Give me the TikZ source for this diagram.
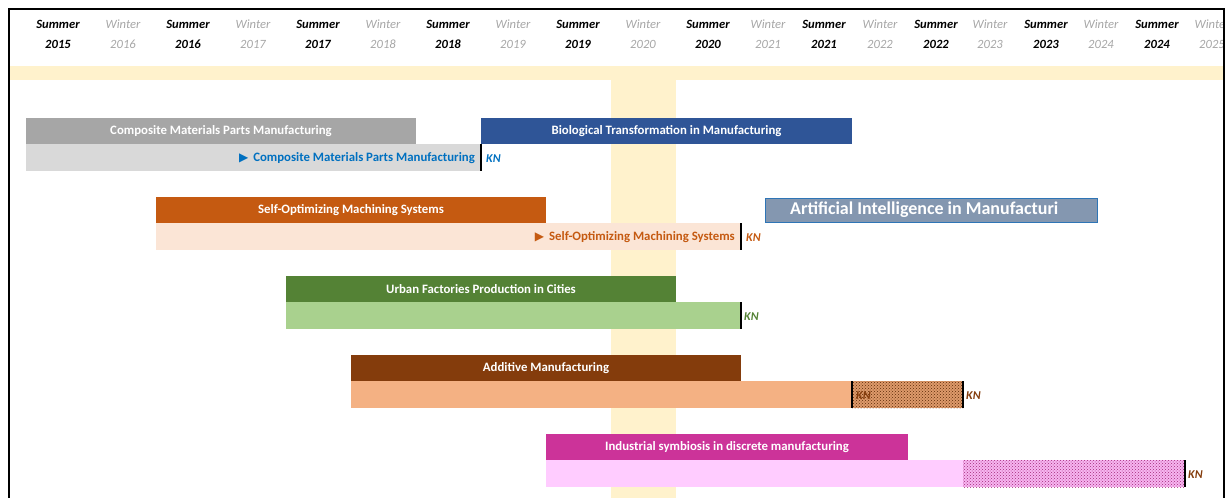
\documentclass[tikz,border=0pt]{standalone}
\usepackage{fontspec}
\setmainfont{Carlito}
\newfontfamily\dvfont{DejaVu Sans}
\usetikzlibrary{patterns}
\definecolor{bandc}{HTML}{FFF2CC}
\definecolor{grayd}{HTML}{A6A6A6}
\definecolor{grayl}{HTML}{D9D9D9}
\definecolor{blued}{HTML}{2F5597}
\definecolor{bluet}{HTML}{0070C0}
\definecolor{oranged}{HTML}{C55A11}
\definecolor{orangel}{HTML}{FBE5D6}
\definecolor{aifill}{HTML}{8497B0}
\definecolor{aiborder}{HTML}{2E75B6}
\definecolor{greend}{HTML}{548235}
\definecolor{greenl}{HTML}{A9D18E}
\definecolor{brownd}{HTML}{843C0C}
\definecolor{brownl}{HTML}{F4B183}
\definecolor{magd}{HTML}{CC3399}
\definecolor{magl}{HTML}{FFCCFF}
\definecolor{wintc}{HTML}{A6A6A6}
\tikzset{
  bar/.style={anchor=north west, inner sep=0pt, outer sep=0pt, minimum height=26pt, text=white, font=\bfseries\fontsize{12.8}{14}\selectfont},
  lowbar/.style={anchor=north west, inner sep=0pt, outer sep=0pt, minimum height=27pt},
  kn/.style={anchor=west, inner sep=0pt, font=\bfseries\itshape\fontsize{12}{13}\selectfont},
  knline/.style={line width=2pt, black},
  sumlab/.style={align=center, font=\bfseries\itshape\fontsize{12.6}{20}\selectfont, text=black},
  winlab/.style={align=center, font=\itshape\fontsize{12.6}{20}\selectfont, text=wintc},
  innerlab/.style={anchor=east, inner sep=0pt, font=\bfseries\fontsize{12.8}{14}\selectfont},
}
\begin{document}
\begin{tikzpicture}[x=1pt,y=-1pt]
\useasboundingbox (0,0) rectangle (1227,498);
% background bands
\fill[bandc] (10,66) rectangle (1223,80);
\fill[bandc] (611,80) rectangle (676,498);
% header
\begin{scope}
\clip (10,10) rectangle (1223,60);
\foreach \x/\y in {58/2015,188/2016,318/2017,448/2018,578/2019,708/2020,824/2021,936/2022,1046/2023,1157/2024}
  \node[sumlab] (s\y) at (\x,34) {Summer\\\y};
\foreach \x/\y in {123/2016,253/2017,383/2018,513/2019,643/2020,768/2021,880/2022,990/2023,1101/2024,1212/2025}
  \node[winlab] (w\y) at (\x,34) {Winter\\\y};
\end{scope}
% frame
\draw[line width=2.2pt] (9,498) -- (9,9) -- (1224,9) -- (1224,498);

% Composite
\node[bar, fill=grayd, minimum width=390pt] (comp) at (26,118) {Composite Materials Parts Manufacturing};
\node[lowbar, fill=grayl, minimum width=455pt] (compl) at (26,144) {};
\node[innerlab, text=bluet] (compt) at (475,158) {{\dvfont\fontsize{12}{10}\selectfont ▶}\, Composite Materials Parts Manufacturing};
\draw[knline] (compl.north east) -- (compl.south east);
\node[kn, text=bluet] (compkn) at (486,159) {KN};

% Biological
\node[bar, fill=blued, minimum width=371pt] (bio) at (481,118) {Biological Transformation in Manufacturing};

% Self-optimizing
\node[bar, fill=oranged, minimum width=390pt] (som) at (156,197) {Self-Optimizing Machining Systems};
\node[lowbar, fill=orangel, minimum width=585pt] (soml) at (156,223) {};
\node[innerlab, text=oranged] (somt) at (735,237) {{\dvfont\fontsize{12}{10}\selectfont ▶}\, Self-Optimizing Machining Systems};
\draw[knline] (soml.north east) -- (soml.south east);
\node[kn, text=oranged] (somkn) at (746,238) {KN};

% AI
\node[anchor=north west, inner sep=0pt, minimum width=332pt, minimum height=24pt, fill=aifill, draw=aiborder, line width=1.3pt] (ai) at (765,198) {};
\begin{scope}
\clip (766,199) rectangle (1057,221);
\node[anchor=west, inner sep=0pt, text=white, font=\bfseries\fontsize{18}{19}\selectfont] (ait) at (790,209.5) {Artificial Intelligence in Manufacturing};
\end{scope}

% Urban
\node[bar, fill=greend, minimum width=390pt] (urb) at (286,276) {Urban Factories Production in Cities};
\node[lowbar, fill=greenl, minimum width=455pt] (urbl) at (286,302) {};
\draw[knline] (urbl.north east) -- (urbl.south east);
\node[kn, text=greend] (urbkn) at (744,317) {KN};

% Additive
\node[bar, fill=brownd, minimum width=390pt] (add) at (351,355) {Additive Manufacturing};
\node[lowbar, fill=brownl, minimum width=501pt] (addl) at (351,381) {};
\fill[brownl!80!brownd] (852,381) rectangle (963,408);
\fill[pattern=crosshatch dots, pattern color=brownd!70!black] (852,381) rectangle (963,408);
\coordinate (addh) at (963,381);
\draw[knline] (addl.north east) -- (addl.south east);
\draw[knline] (addh) -- ++(0,27);
\node[kn, text=brownd] (addkn1) at (856,396) {KN};
\node[kn, text=brownd] (addkn2) at (966,396) {KN};

% Industrial symbiosis
\node[bar, fill=magd, minimum width=362pt] (ind) at (546,434) {Industrial symbiosis in discrete manufacturing};
\node[lowbar, fill=magl, minimum width=417pt] (indl) at (546,460) {};
\fill[magl!85!magd] (963,460) rectangle (1185,487);
\fill[pattern=crosshatch dots, pattern color=magd!80!black] (963,460) rectangle (1185,487);
\coordinate (indh) at (1185,460);
\draw[knline] (indh) -- ++(0,27);
\node[kn, text=brownd] (indkn) at (1188,475) {KN};
\end{tikzpicture}
\end{document}
